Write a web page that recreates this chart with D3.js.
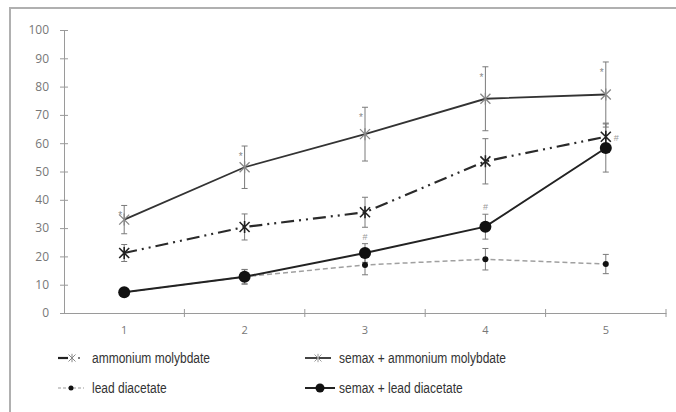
<!DOCTYPE html>
<html>
<head>
<meta charset="utf-8">
<script src="https://cdn.jsdelivr.net/npm/d3@7"></script>
<style>
  body { margin: 0; background: #fff; }
</style>
</head>
<body>
<script>
// data
const days = [1, 2, 3, 4, 5];
const yTicks = [0, 10, 20, 30, 40, 50, 60, 70, 80, 90, 100];

const semaxAmmonium = [33, 51.5, 63.2, 75.7, 77.2];
const semaxAmmoniumErr = [5, 7.5, 9.5, 11.3, 11.5];

const ammonium = [21.2, 30.4, 35.6, 53.6, 62.3];
const ammoniumErr = [3, 4.6, 5.3, 8, 4.8];

const lead = [7.3, 12.8, 17, 19, 17.3];
const leadErr = [0, 2.5, 3.5, 3.8, 3.4];

const semaxLead = [7.3, 12.8, 21.2, 30.5, 58.3];
const semaxLeadErr = [0, 2.6, 3.3, 4.4, 8.5];

const starMarks = [1, 2, 3, 4, 5];     // "*" above semax + ammonium molybdate
const hashMarks = [3, 4];              // "#" above semax + lead diacetate

const W = 676, H = 412;
const svg = d3.select("body").append("svg")
    .attr("width", W)
    .attr("height", H)
    .style("font-family", "'Liberation Sans', Arial, sans-serif");

// frame
svg.append("rect")
    .attr("x", 10).attr("y", 8)
    .attr("width", 720).attr("height", 500)
    .attr("fill", "none")
    .attr("stroke", "#b0b0b0")
    .attr("stroke-width", 2);

const x = d3.scaleBand().domain(days).range([64, 666]);
const cx = d => x(d) + x.bandwidth() / 2;
const y = d3.scaleLinear().domain([0, 100]).range([313, 30]);

const axisColor = "#9a9a9a";

// y axis
const yAxis = svg.append("g")
    .attr("transform", "translate(64,0)")
    .call(d3.axisLeft(y).tickValues(yTicks).tickSizeInner(4).tickSizeOuter(0).tickPadding(11));
yAxis.select(".domain").attr("stroke", axisColor);
yAxis.selectAll(".tick line").attr("stroke", axisColor).attr("x2", 4).attr("x1", -4);
yAxis.selectAll(".tick text").attr("fill", "#777")
    .attr("font-family", "'Open Sans', sans-serif").attr("font-size", 12);

// x axis: ticks sit between categories
const xAxis = svg.append("g")
    .attr("transform", "translate(0,313)")
    .call(d3.axisBottom(x).tickSize(0).tickPadding(13));
xAxis.select(".domain").attr("stroke", axisColor);
xAxis.selectAll(".tick text").attr("fill", "#777").attr("font-size", 11)
    .attr("font-family", "'Open Sans', sans-serif");
xAxis.selectAll(".sep")
    .data(days)
    .enter().append("line")
    .attr("x1", d => x(d) + x.bandwidth())
    .attr("x2", d => x(d) + x.bandwidth())
    .attr("y1", -4).attr("y2", 4)
    .attr("stroke", axisColor);

// error bars
function errorBars(vals, errs) {
    const g = svg.append("g").attr("stroke", "#7a7a7a").attr("stroke-width", 1);
    days.forEach((d, i) => {
        if (!errs[i]) return;
        const hi = y(vals[i] + errs[i]), lo = y(vals[i] - errs[i]), c = cx(d);
        g.append("line").attr("x1", c).attr("x2", c).attr("y1", hi).attr("y2", lo);
        g.append("line").attr("x1", c - 3).attr("x2", c + 3).attr("y1", hi).attr("y2", hi);
        g.append("line").attr("x1", c - 3).attr("x2", c + 3).attr("y1", lo).attr("y2", lo);
    });
}
errorBars(semaxAmmonium, semaxAmmoniumErr);
errorBars(ammonium, ammoniumErr);
errorBars(lead, leadErr);
errorBars(semaxLead, semaxLeadErr);

const line = d3.line().x((d, i) => cx(days[i])).y(d => y(d));

function drawLine(vals, color, width, dash) {
    svg.append("path")
        .attr("d", line(vals))
        .attr("fill", "none")
        .attr("stroke", color)
        .attr("stroke-width", width)
        .attr("stroke-dasharray", dash);
}

function asterisk(g, px, py, s, color, w) {
    g.append("path")
        .attr("d", `M${px - s},${py - s}L${px + s},${py + s}M${px - s},${py + s}L${px + s},${py - s}M${px},${py - s * 1.2}L${px},${py + s * 1.2}`)
        .attr("stroke", color)
        .attr("stroke-width", w)
        .attr("fill", "none");
}

drawLine(lead, "#a0a0a0", 1.5, "5,3");
drawLine(ammonium, "#2a2a2a", 2.2, "13,5,2,5,2,5");
drawLine(semaxAmmonium, "#333", 1.8, null);
drawLine(semaxLead, "#222", 2, null);

const marks = svg.append("g");
days.forEach((d, i) => {
    asterisk(marks, cx(d), y(semaxAmmonium[i]), 5, "#888", 1.3);
    asterisk(marks, cx(d), y(ammonium[i]), 5, "#222", 1.6);
    marks.append("circle").attr("cx", cx(d)).attr("cy", y(lead[i])).attr("r", 3).attr("fill", "#111");
    marks.append("circle").attr("cx", cx(d)).attr("cy", y(semaxLead[i])).attr("r", 6).attr("fill", "#111");
});

// significance marks
svg.append("g").selectAll("text.star")
    .data(starMarks)
    .enter().append("text")
    .attr("x", d => cx(d) - 4)
    .attr("y", d => y(semaxAmmonium[d - 1] + semaxAmmoniumErr[d - 1]) + 14)
    .attr("text-anchor", "middle")
    .attr("font-size", 10)
    .attr("fill", "#888")
    .text("*");
svg.append("g").selectAll("text.hash")
    .data(hashMarks)
    .enter().append("text")
    .attr("x", d => cx(d))
    .attr("y", d => y(semaxLead[d - 1] + semaxLeadErr[d - 1]) - 4)
    .attr("text-anchor", "middle")
    .attr("font-size", 9)
    .attr("fill", "#999")
    .text("#");
svg.append("text")
    .attr("x", cx(5) + 8)
    .attr("y", y(ammonium[4]) + 4)
    .attr("font-size", 9)
    .attr("fill", "#999")
    .text("#");

// legend
const legend = [
    { name: "ammonium molybdate", col: 0, row: 0 },
    { name: "semax + ammonium molybdate", col: 1, row: 0 },
    { name: "lead diacetate", col: 0, row: 1 },
    { name: "semax + lead diacetate", col: 1, row: 1 }
];
const lg = svg.append("g");
legend.forEach((l, k) => {
    const lx = l.col ? 305 : 58, ly = 358 + l.row * 30;
    const g = lg.append("g");
    if (k === 0) {
        g.append("line").attr("x1", lx).attr("x2", lx + 10).attr("y1", ly).attr("y2", ly).attr("stroke", "#222").attr("stroke-width", 2.2);
        g.append("line").attr("x1", lx + 20).attr("x2", lx + 22).attr("y1", ly).attr("y2", ly).attr("stroke", "#555").attr("stroke-width", 1.5);
        asterisk(g, lx + 14, ly, 3.5, "#888", 1);
    } else if (k === 1) {
        g.append("line").attr("x1", lx).attr("x2", lx + 26).attr("y1", ly).attr("y2", ly).attr("stroke", "#444").attr("stroke-width", 2);
        asterisk(g, lx + 13, ly, 3.5, "#999", 1);
    } else if (k === 2) {
        g.append("line").attr("x1", lx).attr("x2", lx + 26).attr("y1", ly).attr("y2", ly).attr("stroke", "#999").attr("stroke-width", 1.2).attr("stroke-dasharray", "3,2");
        g.append("circle").attr("cx", lx + 13).attr("cy", ly).attr("r", 2.5).attr("fill", "#111");
    } else {
        g.append("line").attr("x1", lx).attr("x2", lx + 30).attr("y1", ly).attr("y2", ly).attr("stroke", "#222").attr("stroke-width", 2);
        g.append("circle").attr("cx", lx + 15).attr("cy", ly).attr("r", 4.5).attr("fill", "#111");
    }
    // narrow face: squeeze the regular face horizontally
    g.append("text")
        .attr("transform", `translate(${l.col ? 339 : 92},${ly + 5}) scale(0.8,1)`)
        .attr("font-size", 15)
        .attr("fill", "#333")
        .text(l.name);
});
</script>
</body>
</html>
